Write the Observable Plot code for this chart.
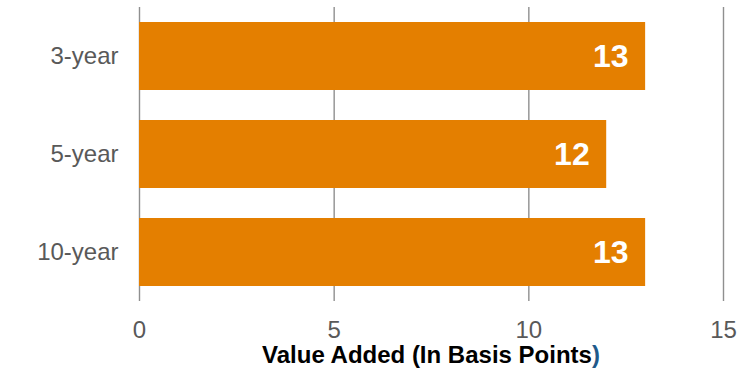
<!DOCTYPE html>
<html>
<head>
<meta charset="utf-8">
<script src="https://cdn.jsdelivr.net/npm/d3@7"></script>
<script src="https://cdn.jsdelivr.net/npm/@observablehq/plot@0.6"></script>
<style>
  html, body { margin: 0; padding: 0; background: #fff; }
  #chart svg { display: block; }
</style>
</head>
<body>
<div id="chart"></div>
<script>
// Value added by horizon, in basis points
const horizons = ["3-year", "5-year", "10-year"];
const valueAdded = [13, 12, 13];
const xTicks = [0, 5, 10, 15];

const rows = horizons.map((h, i) => ({horizon: h, value: valueAdded[i]}));

const chart = Plot.plot({
  width: 742,
  height: 371,
  marginLeft: 139,
  marginRight: 19,
  marginTop: 7,
  marginBottom: 70,
  style: {fontFamily: "'Liberation Sans', Arial, sans-serif", color: "#595959", background: "#fff"},
  x: {domain: [0, 15], ticks: xTicks},
  y: {domain: horizons, paddingInner: 0.306, paddingOuter: 0.153},
  marks: [
    Plot.ruleX(xTicks, {stroke: "#8f8f8f", strokeWidth: 1.4}),
    Plot.barX(rows, {x: "value", y: "horizon", fill: "#E47F00"}),
    Plot.text(rows, {
      x: "value", y: "horizon", text: d => String(d.value),
      textAnchor: "end", dx: -17, fill: "#fff",
      fontWeight: "bold", fontSize: 32
    }),
    Plot.axisY({tickSize: 0, tickPadding: 21, fontSize: 24, label: null}),
    Plot.axisX({ticks: xTicks, tickSize: 0, tickPadding: 19, fontSize: 24, label: null})
  ]
});

// Axis title, with the closing parenthesis set in blue
const xs = chart.scale("x");
const title = d3.select(chart).append("text")
  .attr("x", xs.apply(7.5))
  .attr("y", 363)
  .attr("text-anchor", "middle")
  .attr("font-size", 24)
  .attr("font-weight", "bold")
  .attr("fill", "#000");
title.append("tspan").text("Value Added (In Basis Points");
title.append("tspan").attr("fill", "#1F5A8A").text(")");

document.getElementById("chart").appendChild(chart);
</script>
</body>
</html>
